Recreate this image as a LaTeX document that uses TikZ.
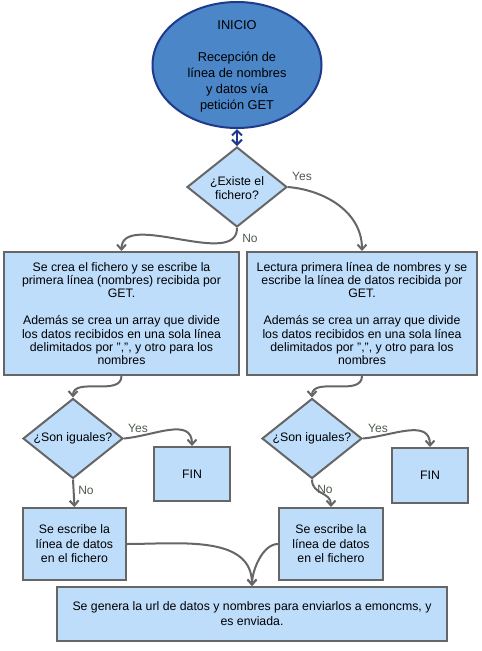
\documentclass[tikz,border=0pt]{standalone}
\usepackage{fontspec}
\setmainfont{Liberation Sans}
\usetikzlibrary{shapes.geometric,arrows.meta}
\definecolor{lblue}{HTML}{BDDDFB}
\definecolor{dblue}{HTML}{4A86C8}
\definecolor{navy}{HTML}{1F3A8A}
\definecolor{edge}{HTML}{666666}
\definecolor{lab}{HTML}{4F5A4F}
\tikzset{
  box/.style={draw=edge,fill=lblue,line width=2pt,align=center,inner sep=0pt,font=\fontsize{12.3}{13.4}\selectfont},
  dia/.style={draw=edge,fill=lblue,line width=2pt,diamond,inner sep=0pt,minimum width=100pt,minimum height=80pt},
  txt/.style={align=center,inner sep=0pt,font=\fontsize{12.3}{14.5}\selectfont},
  conn/.style={draw=edge,line width=2pt,-{Straight Barb[length=5pt,width=9pt]}},
  lbl/.style={text=lab,inner sep=0pt,font=\fontsize{12}{13}\selectfont}
}
\begin{document}
\begin{tikzpicture}[x=1pt,y=-1pt]
\useasboundingbox[fill=white] (0,0) rectangle (482,651);
% start
\node[ellipse,draw=navy,fill=dblue,line width=2pt,minimum width=169pt,minimum height=126pt,inner sep=0pt] (ini) at (237,65) {};
\node[align=center,inner sep=0pt,font=\fontsize{12.8}{16}\selectfont] (init) at (237,66) {INICIO\\[16pt]Recepción de\\línea de nombres\\y datos vía\\petición GET};
% decision 1
\node[dia] (d1) at (237,187) {};
\node[txt] (d1t) at (237,188) {¿Existe el\\fichero?};
% boxes
\node[box,minimum width=235pt,minimum height=123pt] (lb) at (121.5,313.5) {Se crea el fichero y se escribe la\\primera línea (nombres) recibida por\\GET.\\[13.4pt]Además se crea un array que divide\\los datos recibidos en una sola línea\\delimitados por ",", y otro para los\\nombres};
\node[box,minimum width=230pt,minimum height=123pt] (rb) at (362,313.5) {Lectura primera línea de nombres y se\\escribe la línea de datos recibida por\\GET.\\[13.4pt]Además se crea un array que divide\\los datos recibidos en una sola línea\\delimitados por ",", y otro para los\\nombres};
% decisions 2,3
\node[dia] (d2) at (73,438.5) {};
\node[txt] (d2t) at (73,438.5) {¿Son iguales?};
\node[dia] (d3) at (312,438.5) {};
\node[txt] (d3t) at (312,438.5) {¿Son iguales?};
% FIN
\node[box,minimum width=76pt,minimum height=54pt] (f1) at (192,474) {FIN};
\node[box,minimum width=76pt,minimum height=55pt] (f2) at (430,475.5) {FIN};
% write boxes
\node[box,minimum width=103pt,minimum height=72pt,font=\fontsize{12.3}{14.5}\selectfont] (w1) at (74.5,544) {Se escribe la\\línea de datos\\en el fichero};
\node[box,minimum width=104pt,minimum height=72pt,font=\fontsize{12.3}{14.5}\selectfont] (w2) at (331,544) {Se escribe la\\línea de datos\\en el fichero};
% final
\node[box,minimum width=390pt,minimum height=54pt,font=\fontsize{12.3}{15}\selectfont] (fin) at (252,614) {Se genera la url de datos y nombres para enviarlos a emoncms, y\\es enviada.};
% connectors
\draw[navy,line width=2pt,{Straight Barb[length=5pt,width=10pt]}-{Straight Barb[length=5pt,width=10pt]}] (ini.south) -- (d1.north);
\draw[conn] (d1.south) to[out=-90,in=90,looseness=0.9] (lb.north);
\draw[conn] (d1.east) to[out=-5,in=90,looseness=1] (rb.north);
\node[lbl] (yes1) at (302,176) {Yes};
\node[lbl] (no1) at (250,238) {No};
\draw[conn] (lb.south) to[out=-90,in=90] (d2.north);
\draw[conn] (rb.south) to[out=-90,in=90] (d3.north);
\draw[conn] (d2.east) to[out=5,in=90,looseness=1.1] (f1.north);
\draw[conn] (d3.east) to[out=5,in=90,looseness=1.1] (f2.north);
\node[lbl] (yes2) at (138,428) {Yes};
\node[lbl] (yes3) at (378,428) {Yes};
\draw[conn] (d2.south) -- (w1.north);
\node[lbl] (no2) at (86,490) {No};
\draw[conn] (d3.south) to[out=-90,in=90,looseness=1.2] (w2.north);
\node[lbl] (no3) at (325,489) {No};
\draw[conn] (w1.east) to[out=0,in=90,looseness=1] (fin.north);
\draw[conn] (w2.west) to[out=180,in=90,looseness=0.8] (fin.north);
\end{tikzpicture}
\end{document}
